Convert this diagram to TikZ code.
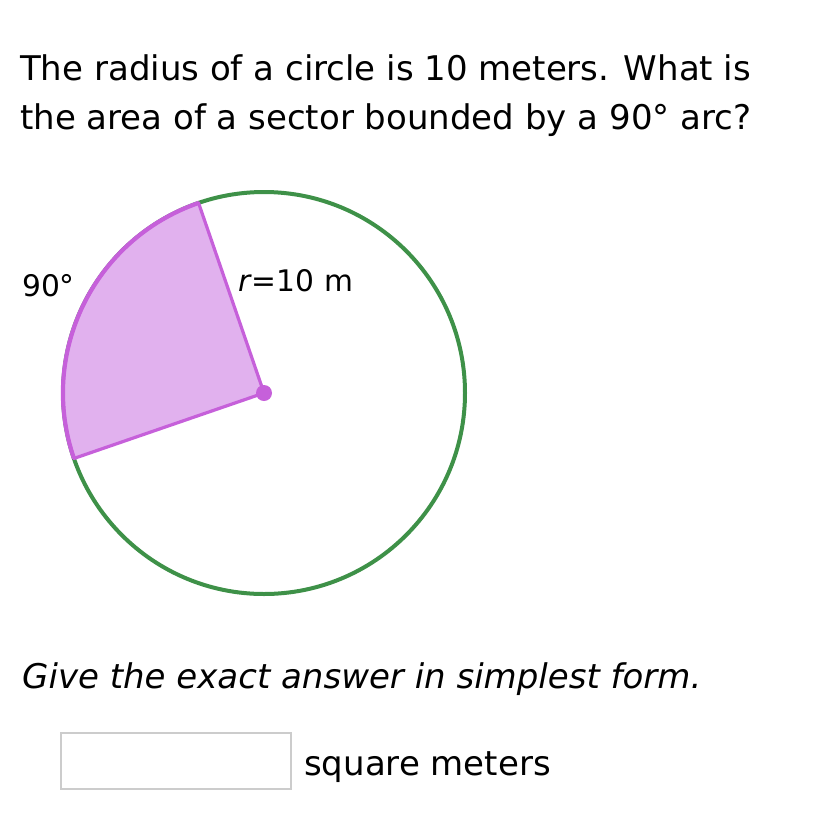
\documentclass[tikz,border=0pt]{standalone}
\usepackage{fontspec}
\setmainfont{DejaVu Sans}
\definecolor{circgreen}{RGB}{62,145,72}
\definecolor{secfill}{RGB}{225,177,238}
\definecolor{secedge}{RGB}{198,96,218}
\definecolor{boxgray}{RGB}{204,204,204}
\begin{document}
\begin{tikzpicture}[x=1pt,y=-1pt,
  qtext/.style={anchor=base west,inner sep=0pt,font=\fontsize{34}{40}\selectfont},
  lbl/.style={anchor=base west,inner sep=0pt,font=\fontsize{29.7}{34}\selectfont}]
\useasboundingbox[fill=white] (0,0) rectangle (828,828);
\node[qtext] (q1) at (20,80) {The radius of a circle is 10 meters. What is};
\node[qtext] (q2) at (20,129) {the area of a sector bounded by a 90° arc?};
\coordinate (c) at (264,393);
\coordinate (a) at ([shift={(109:201 and -201)}]c);
\draw[circgreen,line width=4pt] (c) circle[radius=201];
\fill[secfill] (c) -- (a) arc[start angle=109,end angle=199,x radius=201,y radius=-201] -- cycle;
\draw[secedge,line width=4.2pt] (a) arc[start angle=109,end angle=199,x radius=201,y radius=-201];
\draw[secedge,line width=3.2pt,line join=round] (c) -- (a) arc[start angle=109,end angle=199,x radius=201,y radius=-201] -- cycle;
\fill[secedge] (c) circle[radius=8];
\node[lbl] (deg) at (22,296) {90°};
\node[lbl] (rad) at (238,291) {\textit{r}=10 m};
\node[qtext,font=\fontsize{34}{40}\selectfont\itshape] (inst) at (22,688) {Give the exact answer in simplest form.};
\draw[boxgray,line width=1.5pt] (61,733) rectangle (291,789);
\node[qtext] (unit) at (304,775) {square meters};
\end{tikzpicture}
\end{document}
